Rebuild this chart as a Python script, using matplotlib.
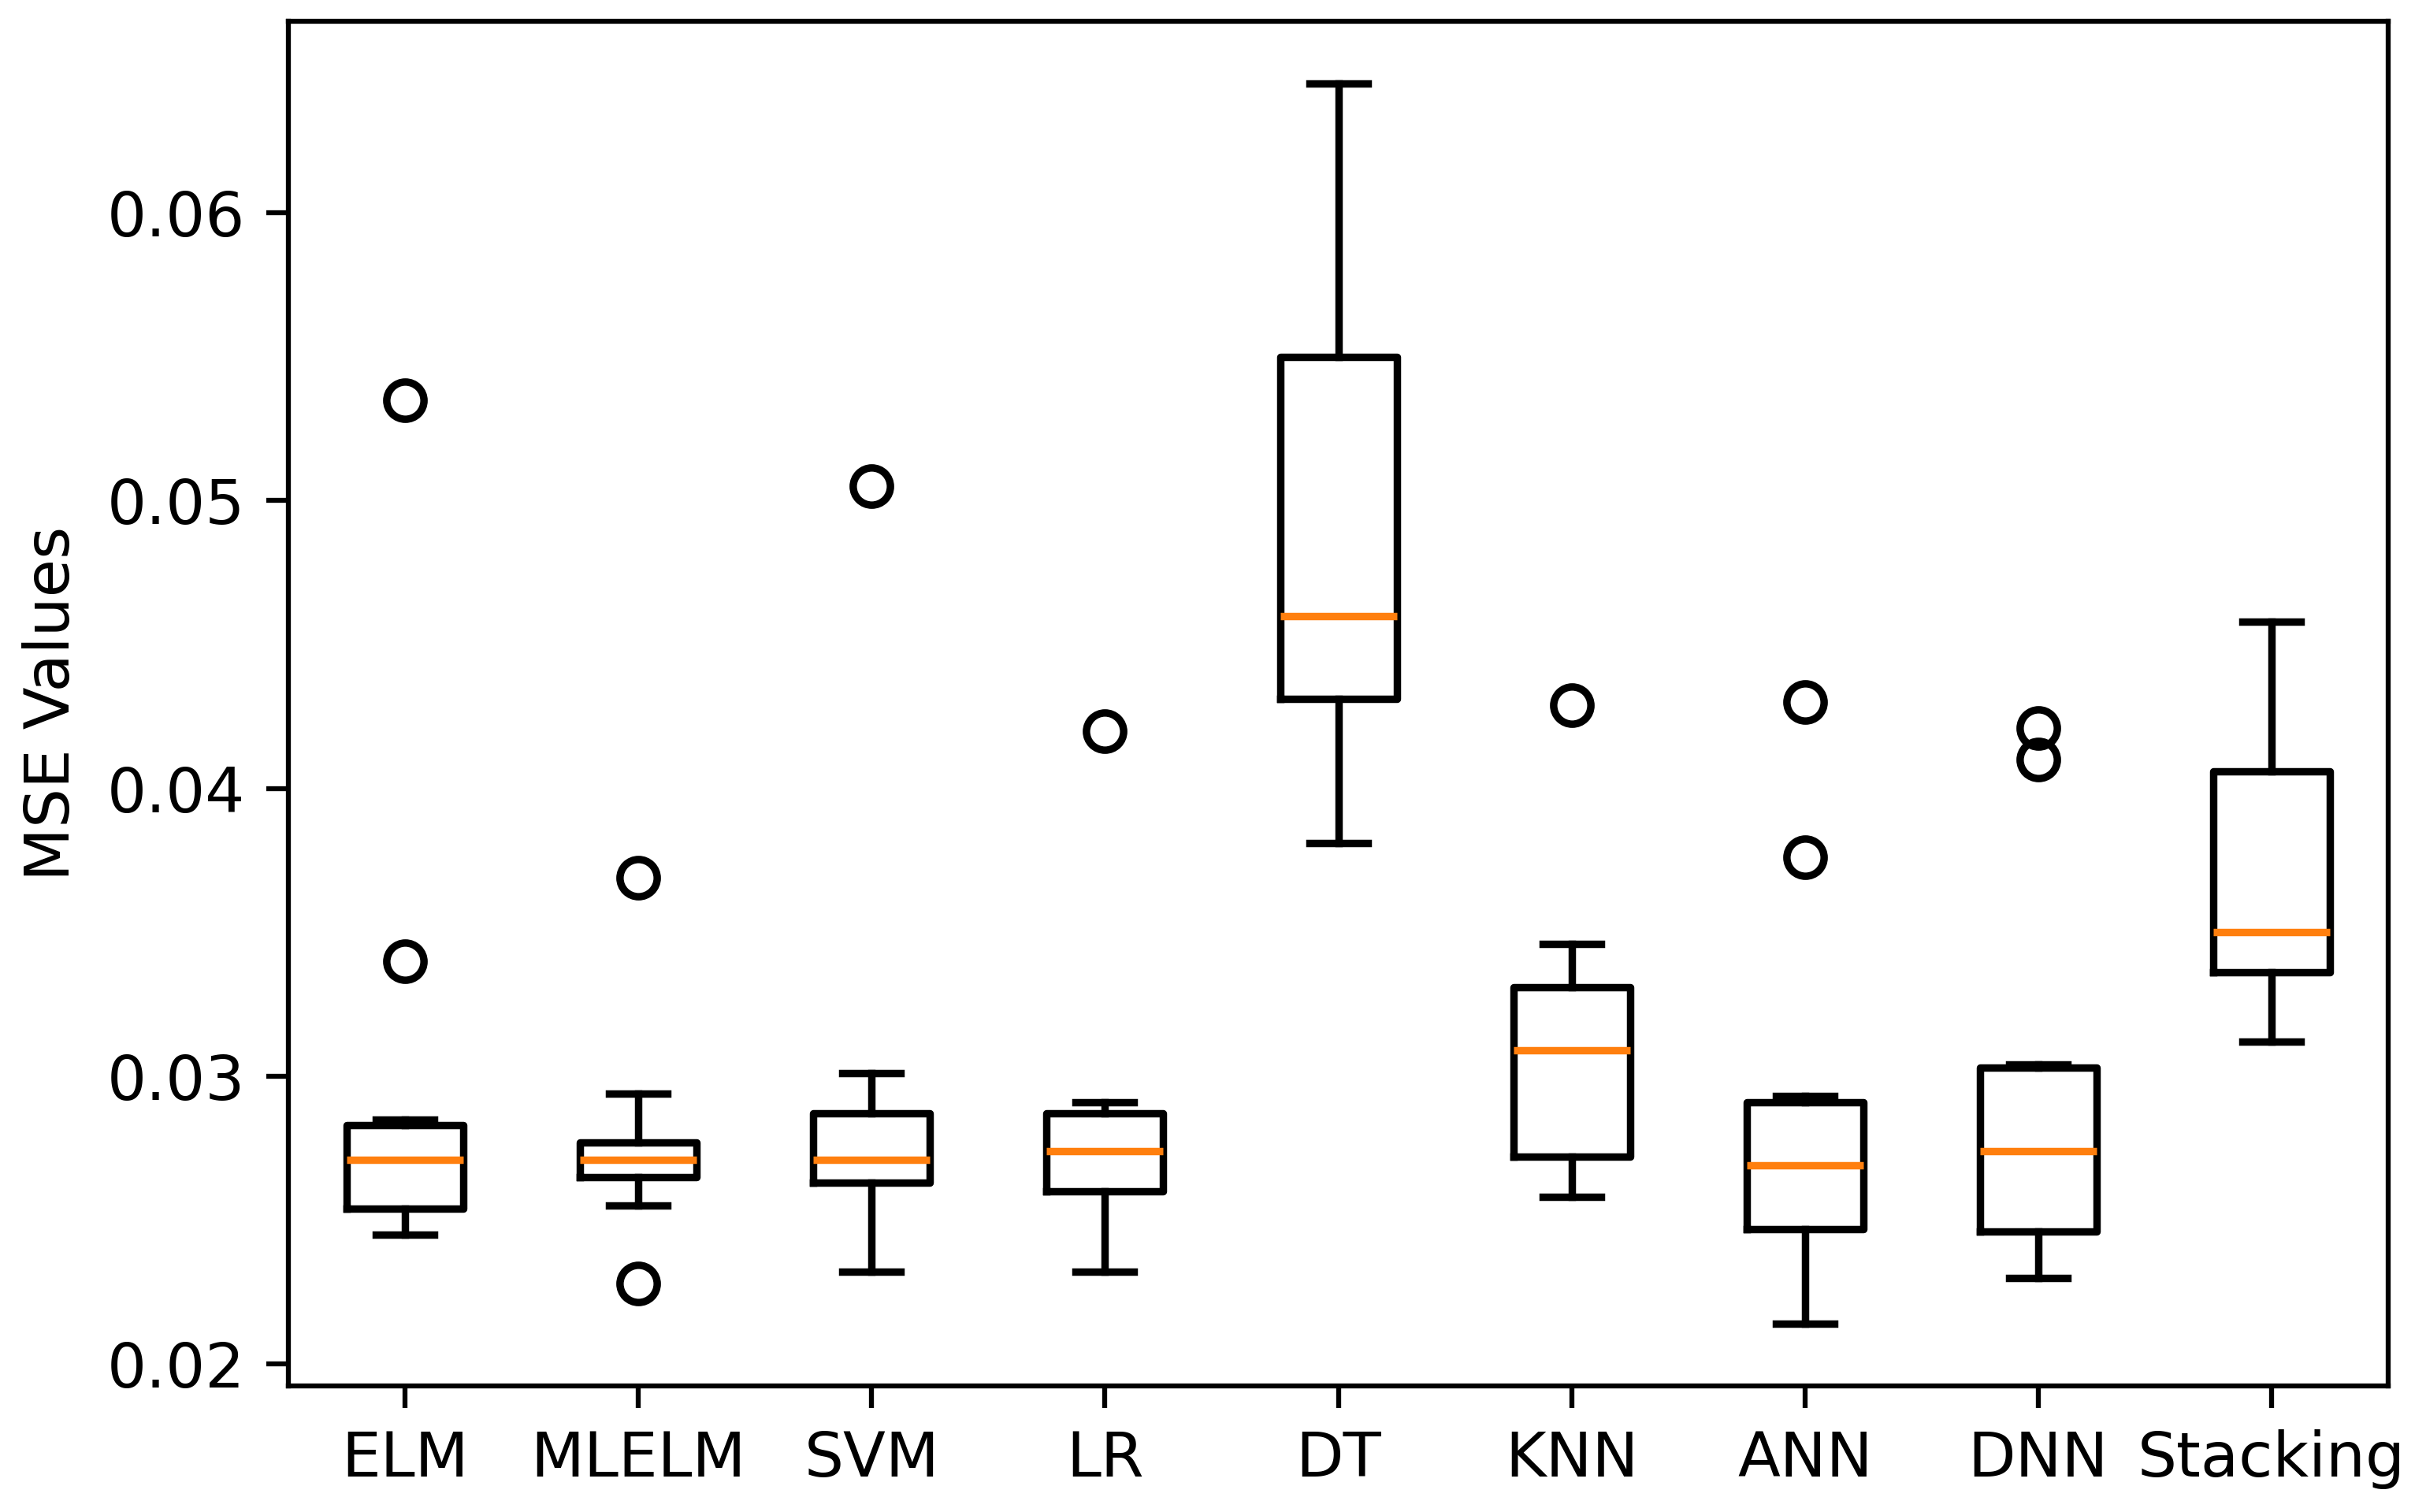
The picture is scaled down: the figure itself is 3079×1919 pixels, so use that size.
import matplotlib
matplotlib.use("Agg")
import matplotlib.pyplot as plt

models = ["ELM", "MLELM", "SVM", "LR", "DT", "KNN", "ANN", "DNN", "Stacking"]

# box statistics
medians = [0.0271, 0.0271, 0.0271, 0.0274, 0.0460, 0.0309, 0.0269, 0.0274, 0.0350]
q1 = [0.0254, 0.0265, 0.0263, 0.0260, 0.0431, 0.0272, 0.0247, 0.0246, 0.0336]
q3 = [0.0283, 0.0277, 0.0287, 0.0287, 0.0550, 0.0331, 0.0291, 0.0303, 0.0406]
whislo = [0.0245, 0.0255, 0.0232, 0.0232, 0.0381, 0.0258, 0.0214, 0.0230, 0.0312]
whishi = [0.0285, 0.0294, 0.0301, 0.0291, 0.0645, 0.0346, 0.0293, 0.0304, 0.0458]
fliers = [
    [0.0535, 0.0340],
    [0.0369, 0.0228],
    [0.0505],
    [0.0420],
    [],
    [0.0429],
    [0.0430, 0.0376],
    [0.0421, 0.0410],
    [],
]

stats = []
for i, name in enumerate(models):
    stats.append({
        "label": name,
        "med": medians[i],
        "q1": q1[i],
        "q3": q3[i],
        "whislo": whislo[i],
        "whishi": whishi[i],
        "fliers": fliers[i],
    })

DPI = 567
fig, ax = plt.subplots(figsize=(3079 / DPI, 1919 / DPI), dpi=DPI)
fig.subplots_adjust(left=0.1189, right=0.9844, top=0.9859, bottom=0.0835)

lw = 1.2
ax.bxp(stats, showfliers=True,
       boxprops=dict(linewidth=lw),
       whiskerprops=dict(linewidth=lw),
       capprops=dict(linewidth=lw),
       medianprops=dict(linewidth=lw, color="C1"),
       flierprops=dict(markeredgewidth=lw))
ax.set_ylabel("MSE Values")

fig.savefig("out.png", dpi=DPI)
